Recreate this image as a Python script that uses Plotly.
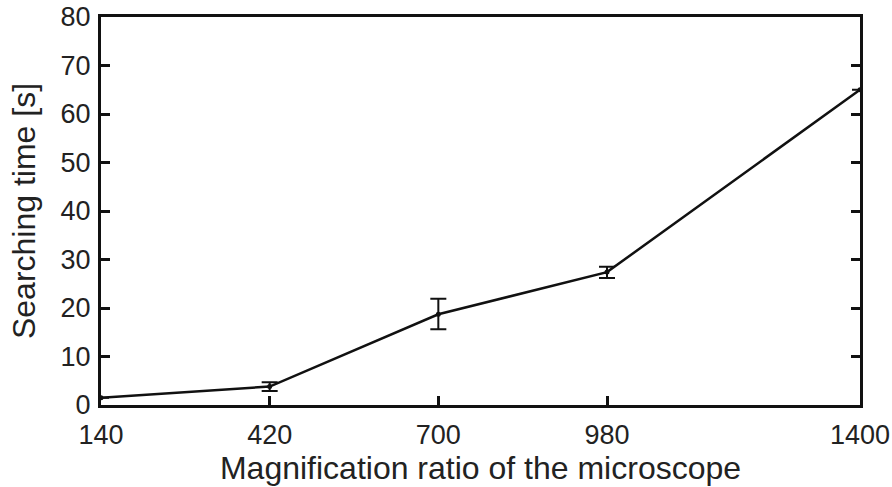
import plotly.graph_objects as go

magnification = [140, 420, 700, 980, 1400]
search_time = [1.5, 3.8, 18.7, 27.4, 65.0]
err_plus = [0.0, 0.9, 3.2, 1.1, 0.0]
err_minus = [0.0, 0.9, 3.1, 1.2, 0.0]

x_ticks = [140, 420, 700, 980, 1400]
y_ticks = [0, 10, 20, 30, 40, 50, 60, 70, 80]

font = "Liberation Sans, Arial, sans-serif"

fig = go.Figure()
fig.add_trace(go.Scatter(
    x=magnification, y=search_time,
    mode="lines+markers",
    line=dict(color="#111111", width=2.5),
    marker=dict(color="#111111", size=5),
    error_y=dict(type="data", symmetric=False, array=err_plus, arrayminus=err_minus,
                 color="#111111", thickness=2, width=8),
    showlegend=False,
    cliponaxis=False,
))

fig.update_layout(
    width=892, height=487,
    margin=dict(l=101, r=32, t=17, b=82),
    plot_bgcolor="white", paper_bgcolor="white",
    font=dict(family=font, color="#222222", size=27),
)
fig.update_xaxes(
    range=[140, 1400], tickvals=x_ticks, ticktext=[str(v) for v in x_ticks],
    showgrid=False, zeroline=False, automargin=False,
    showline=True, linecolor="#111111", linewidth=3, mirror=True,
    ticks="inside", ticklen=9, tickwidth=2.5, tickcolor="#111111",
    tickfont=dict(size=27), ticklabelstandoff=4, ticklabeloverflow="allow",
    title=dict(text="Magnification ratio of the microscope", font=dict(size=32), standoff=4),
)
fig.update_yaxes(
    range=[0, 80], tickvals=y_ticks,
    showgrid=False, zeroline=False, automargin=False,
    showline=True, linecolor="#111111", linewidth=3, mirror="ticks",
    ticks="inside", ticklen=9, tickwidth=2.5, tickcolor="#111111",
    tickfont=dict(size=27), ticklabelstandoff=2,
    title=dict(text="Searching time [s]", font=dict(size=32), standoff=16),
)

fig.write_html("out.html")
